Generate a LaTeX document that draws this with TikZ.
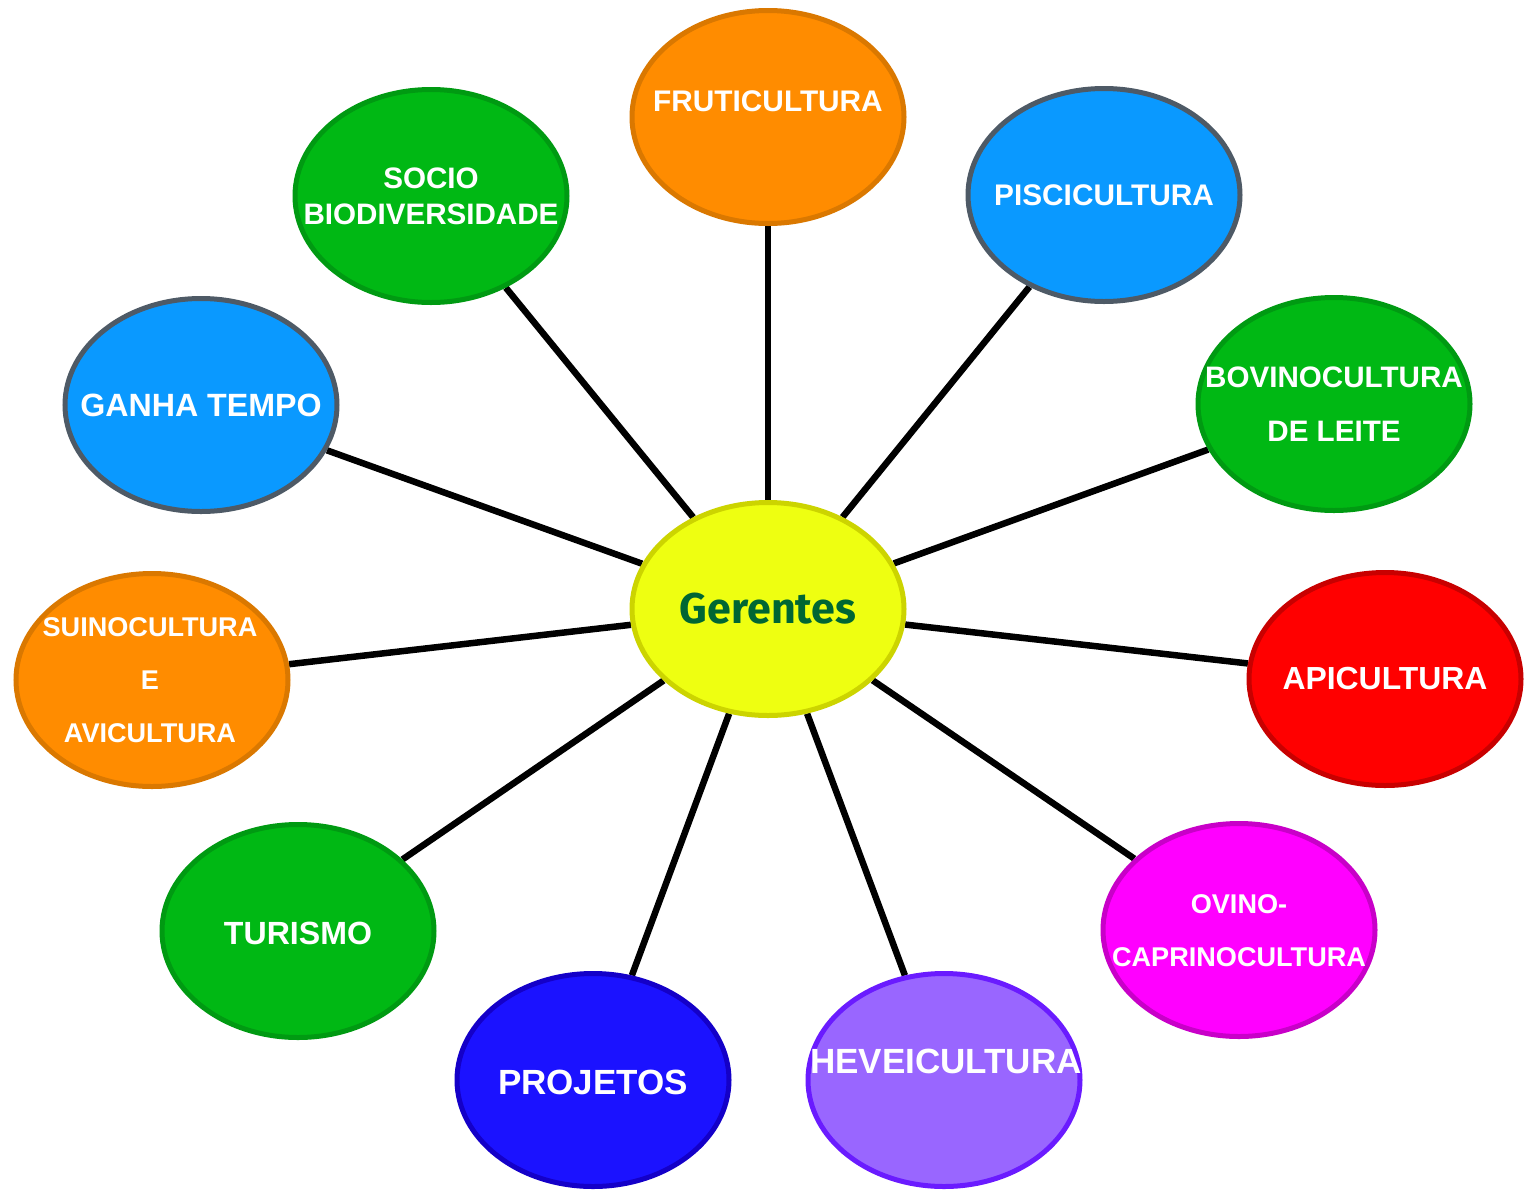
\documentclass[tikz,border=0pt]{standalone}
\usepackage{fontspec}
\setmainfont{Liberation Sans}
\newfontfamily\gfont{Fira Sans}
\usetikzlibrary{shapes.geometric,backgrounds}
\definecolor{orF}{HTML}{FF8C00}\definecolor{orD}{HTML}{DA7800}
\definecolor{blF}{HTML}{0A99FF}\definecolor{blD}{HTML}{4E5A66}
\definecolor{grF}{HTML}{00B814}\definecolor{grD}{HTML}{009A12}
\definecolor{rdF}{HTML}{FF0000}\definecolor{rdD}{HTML}{C80000}
\definecolor{mgF}{HTML}{FF00FF}\definecolor{mgD}{HTML}{C800C8}
\definecolor{pjF}{HTML}{1B12FF}\definecolor{pjD}{HTML}{1400C8}
\definecolor{lvF}{HTML}{9966FF}\definecolor{lvD}{HTML}{6A1BFF}
\definecolor{ylF}{HTML}{EEFF11}\definecolor{ylD}{HTML}{CCD400}
\definecolor{gtx}{HTML}{006633}
\newcommand{\fsz}[2]{\fontsize{#1}{#2}\selectfont\bfseries}
\begin{document}
\begin{tikzpicture}[x=1pt,y=-1pt,
  bub/.style={ellipse, minimum width=272pt, minimum height=213pt, line width=5pt, inner sep=0pt},
  txt/.style={text=white, align=center, inner sep=0pt},
  link/.style={line width=6.5pt, black}]
\useasboundingbox (0,0) rectangle (1529,1189);
\node[bub, fill=ylF, draw=ylD, label={[inner sep=0pt, text=gtx, font=\gfont\bfseries\fontsize{43}{50}\selectfont]center:Gerentes}] (g) at (768,609) {};
\node[bub, fill=orF, draw=orD, label={[txt, yshift=16pt, font=\fsz{29.8}{35}]center:FRUTICULTURA}] (fr) at (768,117) {};
\node[bub, fill=blF, draw=blD, label={[txt, font=\fsz{29.8}{35}]center:PISCICULTURA}] (pi) at (1104,195) {};
\node[bub, fill=grF, draw=grD, label={[txt, font=\fsz{29.6}{36}]center:SOCIO\\BIODIVERSIDADE}] (so) at (431,196) {};
\node[bub, fill=blF, draw=blD, label={[txt, font=\fsz{32.2}{38}]center:GANHA TEMPO}] (ga) at (201,405) {};
\node[bub, fill=grF, draw=grD, label={[txt, font=\fsz{29.6}{54}]center:BOVINOCULTURA\\DE LEITE}] (bo) at (1334,404) {};
\node[bub, fill=orF, draw=orD, label={[txt, xshift=-2pt, font=\fsz{27.1}{53}]center:SUINOCULTURA\\E\\AVICULTURA}] (su) at (152,680) {};
\node[bub, fill=rdF, draw=rdD, label={[txt, font=\fsz{31.9}{38}]center:APICULTURA}] (ap) at (1385,679) {};
\node[bub, fill=grF, draw=grD, label={[txt, yshift=-2pt, font=\fsz{32.1}{38}]center:TURISMO}] (tu) at (298,931) {};
\node[bub, fill=mgF, draw=mgD, label={[txt, yshift=-1pt, font=\fsz{27.1}{53}]center:OVINO-\\CAPRINOCULTURA}] (ov) at (1239,930) {};
\node[bub, fill=pjF, draw=pjD, label={[txt, yshift=-2pt, font=\fsz{35}{40}]center:PROJETOS}] (pr) at (593,1080) {};
\node[bub, fill=lvF, draw=lvD, label={[txt, yshift=19pt, xshift=2pt, font=\fsz{35}{40}]center:HEVEICULTURA}] (he) at (944,1080) {};
\begin{scope}[on background layer]
\foreach \n in {fr,pi,so,ga,bo,su,ap,tu,ov,pr,he}
  \draw[link] (g) -- (\n);
\end{scope}
\end{tikzpicture}
\end{document}
